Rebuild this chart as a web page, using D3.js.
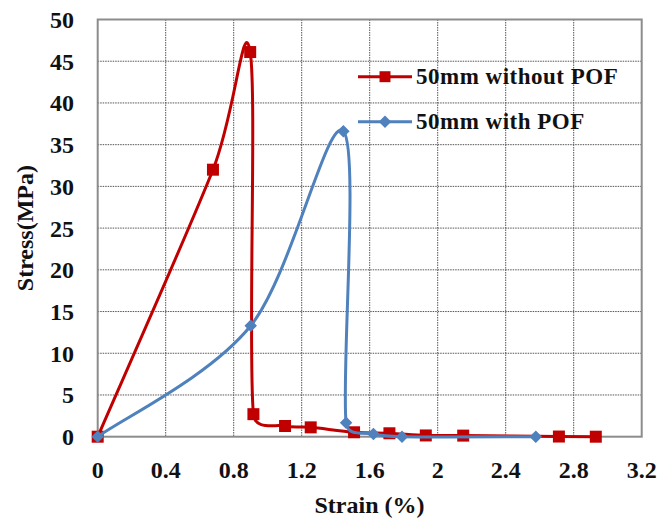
<!DOCTYPE html>
<html><head><meta charset="utf-8">
<script src="https://cdn.jsdelivr.net/npm/d3@7"></script>
<style>body{margin:0;background:#fff}svg{display:block}</style>
</head><body>
<script>
const xTicks = [0, 0.4, 0.8, 1.2, 1.6, 2.0, 2.4, 2.8, 3.2];
const xTickLabels = ["0", "0.4", "0.8", "1.2", "1.6", "2", "2.4", "2.8", "3.2"];
const yTicks = [0, 5, 10, 15, 20, 25, 30, 35, 40, 45, 50];
const seriesNames = ["50mm without POF", "50mm with POF"];
const redStrain = [0, 0.678, 0.897, 0.916, 1.102, 1.253, 1.508, 1.716, 1.93, 2.15, 2.713, 2.93];
const redStress = [0, 32.0, 46.1, 2.7, 1.28, 1.12, 0.53, 0.41, 0.15, 0.13, 0.02, 0.0];
const blueStrain = [0, 0.9, 1.445, 1.461, 1.622, 1.79, 2.577];
const blueStress = [0, 13.3, 36.6, 1.68, 0.32, 0.0, 0.0];

const W = 659, H = 522;
const m = {left: 97.7, top: 19.5, right: 641.7, bottom: 436.7};
const svg = d3.select("body").append("svg").attr("width", W).attr("height", H);
const x = d3.scaleLinear().domain([0, 3.2]).range([m.left, m.right]);
const y = d3.scaleLinear().domain([0, 50]).range([m.bottom, m.top]);
const font = "'Liberation Serif','Times New Roman',serif";

// gridlines
const g = svg.append("g");
g.selectAll("line.vx").data(xTicks.slice(1, -1)).join("line")
  .attr("x1", d => x(d)).attr("x2", d => x(d)).attr("y1", m.top).attr("y2", m.bottom)
  .attr("stroke", "#555").attr("stroke-width", 1).attr("stroke-dasharray", "1.5,1");
g.selectAll("line.hy").data(yTicks.slice(1, -1)).join("line")
  .attr("y1", d => y(d)).attr("y2", d => y(d)).attr("x1", m.left).attr("x2", m.right)
  .attr("stroke", "#555").attr("stroke-width", 1).attr("stroke-dasharray", "1.5,1");
svg.append("rect").attr("x", m.left).attr("y", m.top).attr("width", m.right - m.left).attr("height", m.bottom - m.top)
  .attr("fill", "none").attr("stroke", "#8c8c8c").attr("stroke-width", 2);

// axes labels
svg.append("g").selectAll("text").data(yTicks).join("text")
  .attr("x", 74).attr("y", d => y(d)).attr("dy", "0.35em").attr("text-anchor", "end")
  .attr("font-family", font).attr("font-weight", "bold").attr("font-size", 24).attr("fill", "#111")
  .text(d => d);
svg.append("g").selectAll("text").data(xTicks).join("text")
  .attr("x", d => x(d)).attr("y", 478).attr("text-anchor", "middle")
  .attr("font-family", font).attr("font-weight", "bold").attr("font-size", 24).attr("fill", "#111")
  .text((d, i) => xTickLabels[i]);
svg.append("text").attr("x", 369.5).attr("y", 513).attr("text-anchor", "middle")
  .attr("font-family", font).attr("font-weight", "bold").attr("font-size", 24).attr("fill", "#111")
  .text("Strain (%)");
svg.append("text").attr("transform", `translate(33,${(m.top + m.bottom) / 2}) rotate(-90)`)
  .attr("text-anchor", "middle")
  .attr("font-family", font).attr("font-weight", "bold").attr("font-size", 24).attr("fill", "#111")
  .text("Stress(MPa)");

// Excel-style smoothed line: Catmull-Rom tangents, control arm capped at half segment length
function smoothPath(pts) {
  const p = d3.path();
  const P = pts.map(d => [x(d[0]), y(d[1])]);
  const n = P.length;
  const dist = (a, b) => Math.hypot(b[0] - a[0], b[1] - a[1]);
  p.moveTo(P[0][0], P[0][1]);
  for (let i = 0; i < n - 1; i++) {
    const p0 = P[Math.max(i - 1, 0)], p1 = P[i], p2 = P[i + 1], p3 = P[Math.min(i + 2, n - 1)];
    const L = dist(p1, p2);
    let t1 = [(p2[0] - p0[0]) / 6, (p2[1] - p0[1]) / 6];
    let t2 = [(p3[0] - p1[0]) / 6, (p3[1] - p1[1]) / 6];
    const l1 = Math.hypot(t1[0], t1[1]), l2 = Math.hypot(t2[0], t2[1]);
    if (l1 > L / 2) { t1 = [t1[0] * L / 2 / l1, t1[1] * L / 2 / l1]; }
    if (l2 > L / 2) { t2 = [t2[0] * L / 2 / l2, t2[1] * L / 2 / l2]; }
    p.bezierCurveTo(p1[0] + t1[0], p1[1] + t1[1], p2[0] - t2[0], p2[1] - t2[1], p2[0], p2[1]);
  }
  return p.toString();
}

const red = redStrain.map((s, i) => [s, redStress[i]]);
const blue = blueStrain.map((s, i) => [s, blueStress[i]]);
const RED = "#C00000", BLUE = "#4F81BD";

function drawSeries(data, color, shape) {
  svg.append("path").attr("d", smoothPath(data)).attr("fill", "none")
    .attr("stroke", color).attr("stroke-width", 3).attr("stroke-linejoin", "round");
  const sym = d3.symbol().type(shape === "square" ? d3.symbolSquare : d3.symbolDiamond2).size(shape === "square" ? 144 : 100);
  svg.append("g").selectAll("path").data(data).join("path")
    .attr("transform", d => `translate(${x(d[0])},${y(d[1])})`)
    .attr("d", sym).attr("fill", color);
}
drawSeries(red, RED, "square");
drawSeries(blue, BLUE, "diamond");

// legend
const leg = [{name: seriesNames[0], color: RED, shape: "square", y: 76.7}, {name: seriesNames[1], color: BLUE, shape: "diamond", y: 121.7}];
leg.forEach(l => {
  svg.append("line").attr("x1", 358).attr("x2", 412).attr("y1", l.y).attr("y2", l.y)
    .attr("stroke", l.color).attr("stroke-width", 3);
  const sym = d3.symbol().type(l.shape === "square" ? d3.symbolSquare : d3.symbolDiamond2).size(l.shape === "square" ? 120 : 100);
  svg.append("path").attr("transform", `translate(385,${l.y})`).attr("d", sym).attr("fill", l.color);
  svg.append("text").attr("x", 416).attr("y", l.y + 7.5).attr("font-family", font).attr("font-weight", "bold")
    .attr("font-size", 23).attr("letter-spacing", 0.5).attr("fill", "#111").text(l.name);
});
</script>
</body></html>
